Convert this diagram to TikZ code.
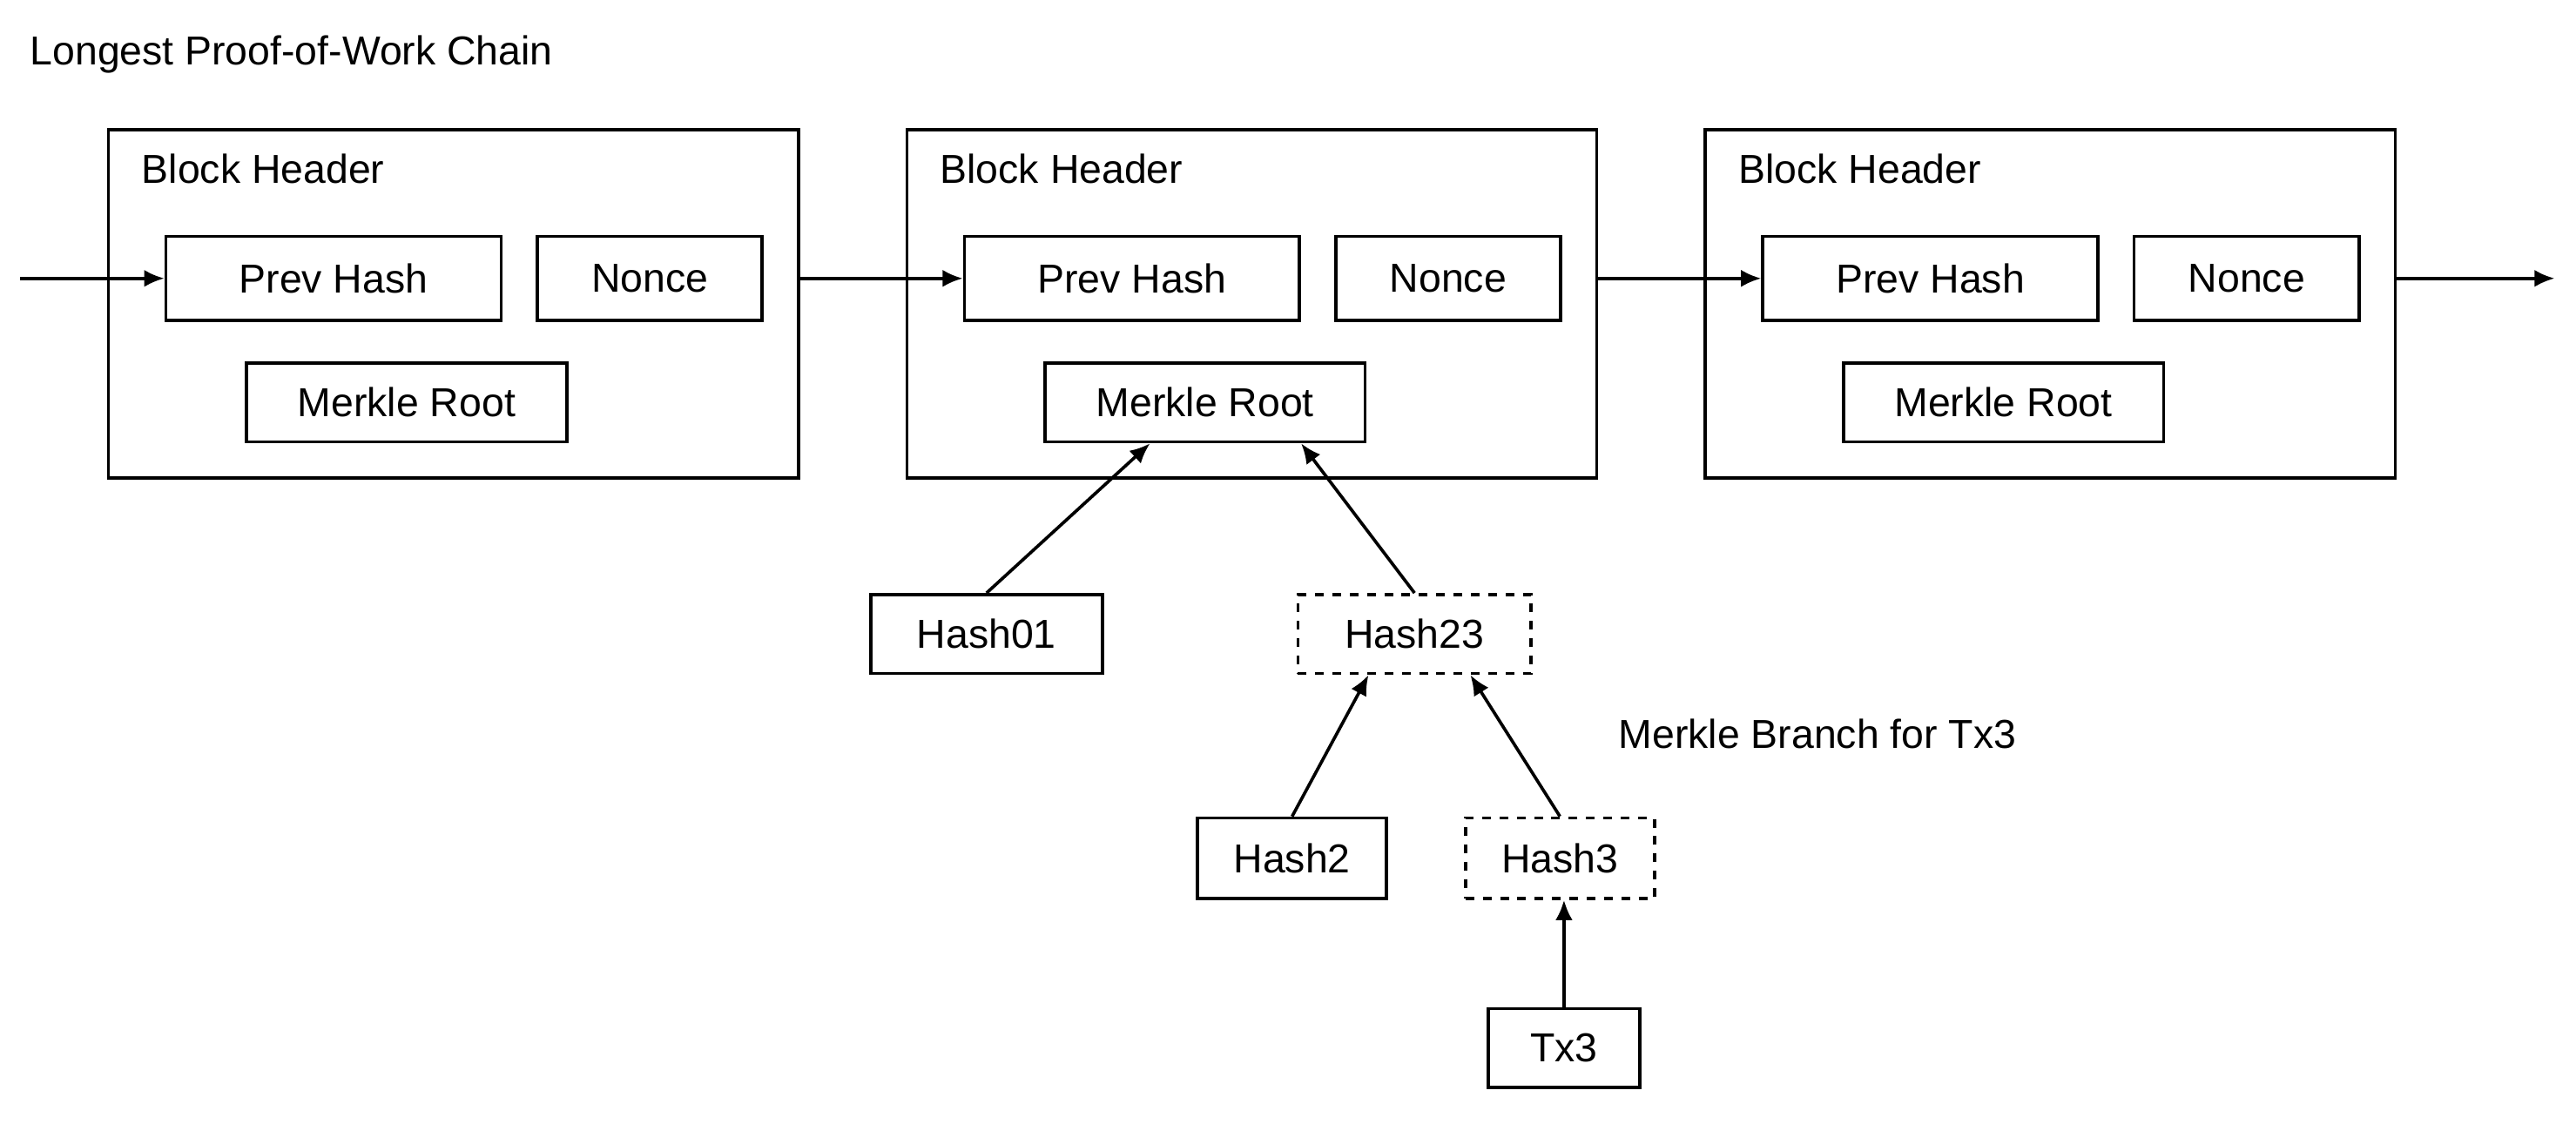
\documentclass[tikz,border=0pt]{standalone}
\usepackage{fontspec}
\setmainfont{Liberation Sans}
\usetikzlibrary{calc, arrows.meta}

\tikzset{
  blk/.style={draw, line width=1.1pt, minimum width=8.4cm, minimum height=4.24cm, inner sep=0pt},
  fld/.style={draw, line width=1.1pt, minimum height=1.02cm, inner sep=0pt, font=\fontsize{14}{16}\selectfont},
  lbl/.style={anchor=west, inner sep=0pt, font=\fontsize{14}{16}\selectfont},
  arr/.style={line width=1.1pt, -{Latex[length=7pt, width=6pt]}}
}

\begin{document}
\begin{tikzpicture}[x=0.02cm, y=-0.02cm]
  \useasboundingbox (0,0) rectangle (1568,684.3);
  \node[lbl] (title) at (18,33) {Longest Proof-of-Work Chain};
  \foreach \i/\dx in {1/0, 2/486, 3/972} {
    \node[blk] (b\i) at (276+\dx,185) {};
    \node[lbl] (bh\i) at (86+\dx,103) {Block Header};
    \node[fld, minimum width=4.08cm] (ph\i) at (203+\dx,169.5) {Prev Hash};
    \node[fld, minimum width=2.74cm] (nc\i) at (395.5+\dx,169.5) {Nonce};
    \node[fld, minimum width=3.9cm, minimum height=0.96cm] (mr\i) at (247.5+\dx,245) {Merkle Root};
  }
  \coordinate (in) at (12,169.5);
  \coordinate (out) at (1555,169.5);
  \draw[arr] (in) -- (ph1.west);
  \draw[arr] (b1.east |- ph1) -- (ph2.west);
  \draw[arr] (b2.east |- ph2) -- (ph3.west);
  \draw[arr] (b3.east |- ph3) -- (out);

  % merkle branch
  \node[fld, minimum width=2.82cm, minimum height=0.96cm] (h01) at (600.5,386) {Hash01};
  \node[fld, dashed, minimum width=2.84cm, minimum height=0.96cm] (h23) at (861,386) {Hash23};
  \node[fld, minimum width=2.3cm, minimum height=0.98cm] (h2) at (786.5,522.5) {Hash2};
  \node[fld, dashed, minimum width=2.3cm, minimum height=0.98cm] (h3) at (949.5,522.5) {Hash3};
  \node[fld, minimum width=1.84cm, minimum height=0.96cm] (tx3) at (952,638) {Tx3};
  \node[lbl] (mb) at (985,447) {Merkle Branch for Tx3};

  \draw[arr] (h01.north) -- ($(mr2.south)+(-33.5,0)$);
  \draw[arr] (h23.north) -- ($(mr2.south)+(58.5,0)$);
  \draw[arr] (h2.north) -- ($(h23.south)+(-28,0)$);
  \draw[arr] (h3.north) -- ($(h23.south)+(34,0)$);
  \draw[arr] (tx3.north) -- (h3.south -| tx3);
\end{tikzpicture}
\end{document}
